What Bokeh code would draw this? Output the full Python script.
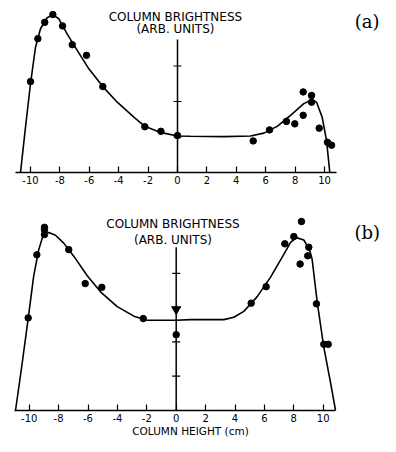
from bokeh.plotting import figure
from bokeh.layouts import column
from bokeh.models import FixedTicker, Range1d
from bokeh.core.properties import value
from bokeh.embed import file_html
from bokeh.resources import INLINE

# ---------------- data ----------------
x_ticks = [-10, -8, -6, -4, -2, 0, 2, 4, 6, 8, 10]
x_tick_labels = ["-10", "-8", "-6", "-4", "-2", "0", "2", "4", "6", "8", "10"]

# panel (a): measured points
a_pts_x = [-10.0, -9.5, -9.03, -8.48, -7.82, -7.16, -6.19, -5.08, -2.22, -1.13, 0.0,
           5.15, 6.26, 7.41, 7.98, 8.55, 8.55, 9.12, 9.12, 9.64, 10.2, 10.48]
a_pts_y = [2.56, 3.77, 4.23, 4.45, 4.13, 3.6, 3.3, 2.42, 1.29, 1.16, 1.04,
           0.89, 1.20, 1.44, 1.37, 2.27, 1.61, 2.17, 1.98, 1.25, 0.85, 0.77]
# panel (a): fitted curve
a_curve_x = [-10.68, -10.34, -10.0, -9.66, -9.32, -8.87, -8.48, -8.07, -7.5, -6.82, -6.03,
             -5.08, -4.1, -2.97, -2.22, -1.16, 0.0, 0.88, 3.15, 4.97, 5.87, 6.78, 7.69,
             8.59, 9.16, 9.46, 9.84, 10.14, 10.36]
a_curve_y = [0.0, 1.28, 2.50, 3.53, 4.05, 4.36, 4.44, 4.33, 3.9, 3.44, 2.92,
             2.42, 1.98, 1.56, 1.30, 1.13, 1.03, 1.02, 1.01, 1.03, 1.11, 1.30, 1.61,
             1.94, 2.05, 1.98, 1.56, 0.90, 0.0]
a_axis_ticks = [1, 2, 3]

# panel (b): measured points
b_pts_x = [-10.07, -9.48, -8.96, -8.96, -8.96, -7.31, -6.19, -5.06, -2.24, 0.0,
           5.10, 6.12, 7.39, 8.0, 8.52, 8.43, 9.02, 8.95, 9.54, 10.04, 10.34]
b_pts_y = [2.70, 4.54, 5.34, 5.27, 5.13, 4.69, 3.70, 3.59, 2.68, 2.21,
           3.13, 3.61, 4.86, 5.07, 5.51, 4.27, 4.76, 4.51, 3.11, 1.93, 1.93]
b_tri_x = [0.0]
b_tri_y = [2.95]
# panel (b): fitted curve
b_curve_x = [-10.93, -10.48, -10.07, -9.69, -9.35, -9.05, -8.67, -8.21, -7.65, -6.97, -6.05,
             -5.15, -4.01, -2.88, -1.97, 0.0, 0.97, 3.24, 3.92, 4.60, 5.51, 6.41, 7.32,
             7.78, 8.18, 8.68, 9.07, 9.25, 9.59, 10.04, 10.50, 10.84]
b_curve_y = [0.0, 1.37, 2.68, 3.93, 4.69, 5.11, 5.19, 5.11, 4.88, 4.50, 3.93,
             3.46, 3.03, 2.75, 2.63, 2.63, 2.65, 2.65, 2.72, 2.89, 3.32, 3.88, 4.55,
             4.90, 5.04, 4.97, 4.69, 4.40, 3.17, 1.85, 0.81, 0.0]
b_axis_ticks = [1, 2, 3, 4]

SANS = "DejaVu Sans"


def make_panel(fw, fh, xr, yr, bottom, axis_label=None):
    p = figure(frame_width=fw, frame_height=fh, x_range=Range1d(*xr), y_range=Range1d(*yr),
               output_backend="svg", toolbar_location=None, y_axis_location=None,
               min_border_left=0, min_border_right=0, min_border_top=0,
               min_border_bottom=bottom)
    p.xgrid.visible = False
    p.ygrid.visible = False
    p.outline_line_color = None
    p.background_fill_color = "white"
    p.border_fill_color = "white"
    ax = p.xaxis[0]
    ax.ticker = FixedTicker(ticks=x_ticks)
    ax.major_label_overrides = {t: l for t, l in zip(x_ticks, x_tick_labels)}
    ax.bounds = (-11.0, 10.85)
    ax.axis_line_width = 1.5
    ax.axis_line_color = "black"
    ax.major_tick_in = 6
    ax.major_tick_out = 0
    ax.major_tick_line_width = 1.2
    ax.major_tick_line_color = "black"
    ax.minor_tick_line_color = None
    ax.major_label_standoff = 3
    ax.major_label_text_font = SANS
    ax.major_label_text_font_size = "10px"
    ax.major_label_text_color = "black"
    if axis_label:
        ax.axis_label = axis_label
        ax.axis_label_standoff = 0
        ax.axis_label_text_font = SANS
        ax.axis_label_text_font_size = "10.5px"
        ax.axis_label_text_font_style = "normal"
        ax.axis_label_text_color = "black"
    return p


def add_vaxis(p, top, ticks, half):
    p.segment(x0=[0], y0=[0], x1=[0], y1=[top], line_color="black", line_width=1.5)
    p.segment(x0=[-half] * len(ticks), y0=ticks, x1=[half] * len(ticks), y1=ticks,
              line_color="black", line_width=1.2)


def add_titles(p, xt, yt, ys, xl, yl, lab):
    p.text(x=[xt], y=[yt], text=["COLUMN BRIGHTNESS"], text_font=value(SANS),
           text_font_size="12px", text_align="center", text_baseline="middle",
           text_color="black")
    p.text(x=[xt], y=[ys], text=["(ARB. UNITS)"], text_font=value(SANS),
           text_font_size="12px", text_align="center", text_baseline="middle",
           text_color="black")
    p.text(x=[xl], y=[yl], text=[lab], text_font=value("DejaVu Serif"),
           text_font_size="18px", text_align="center", text_baseline="middle",
           text_color="black")


# ---------------- panel (a) ----------------
PXA = 35.5
pa = make_panel(380, 172, (-177 / 14.7, 203 / 14.7), (0, 172 / PXA), 20)
add_vaxis(pa, 3.75, a_axis_ticks, 4 / 14.7)
pa.line(a_curve_x, a_curve_y, line_color="black", line_width=1.6)
pa.scatter(a_pts_x, a_pts_y, size=6.5, color="black")
add_titles(pa, -0.14, (172 - 16.5) / PXA, (172 - 28.5) / PXA, 12.9, (172 - 20.5) / PXA, "(a)")

# ---------------- panel (b) ----------------
PXB = 34.3
pb = make_panel(380, 218, (-175.7 / 14.7, 204.3 / 14.7), (0, 218 / PXB), 26,
                axis_label="COLUMN HEIGHT (cm)")
add_vaxis(pb, 4.76, b_axis_ticks, 4 / 14.7)
pb.line(b_curve_x, b_curve_y, line_color="black", line_width=1.6)
pb.scatter(b_pts_x, b_pts_y, size=6.5, color="black")
pb.scatter(b_tri_x, b_tri_y, marker="inverted_triangle", size=9, color="black")
add_titles(pb, -0.22, (410 - 223) / PXB, (410 - 239) / PXB, 13.0, (410 - 232) / PXB, "(b)")

layout = column(pa, pb, spacing=0)
open("out.html", "w").write(file_html(layout, INLINE))
